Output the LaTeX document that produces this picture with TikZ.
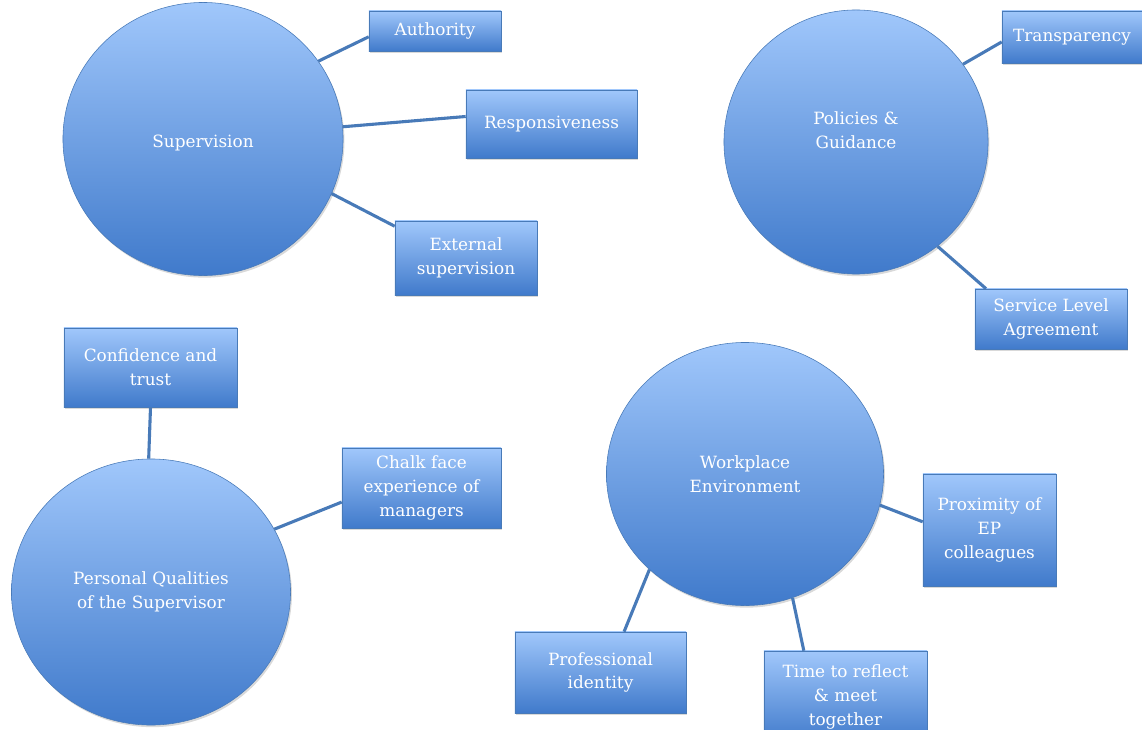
\documentclass[tikz,border=0pt]{standalone}
\usepackage{fontspec}
\setmainfont{DejaVu Serif}
\usepackage{tikz}
\usepackage{xcolor}
\usetikzlibrary{shapes.geometric,shadows}

\definecolor{blobtop}{RGB}{160,199,251}
\definecolor{blobbot}{RGB}{64,122,203}
\definecolor{linkblue}{RGB}{72,122,184}

\tikzset{
	bubble/.style={ellipse, draw=linkblue, thin, shading=axis, top color=blobtop, bottom color=blobbot,
		drop shadow={shadow xshift=1pt, shadow yshift=-1.5pt, opacity=0.3}, text=white, align=center,
		inner sep=0pt, font=\fontsize{12}{17}\selectfont},
	tag/.style={rectangle, draw=linkblue, thin, shading=axis, top color=blobtop, bottom color=blobbot,
		drop shadow={shadow xshift=1pt, shadow yshift=-1.5pt, opacity=0.3}, text=white, align=center,
		inner sep=0pt, font=\fontsize{12}{17}\selectfont},
	link/.style={draw=linkblue, line width=2.2pt}
}

\begin{document}
\begin{tikzpicture}[x=0.025cm, y=-0.025cm]
	\useasboundingbox (0,0) rectangle (1142,729);
	% circles
	\node[bubble, minimum width=7cm,     minimum height=6.825cm, text height=0.5cm] (sup) at (203,139) {Supervision};
	\node[bubble, minimum width=6.6cm,   minimum height=6.6cm, text depth=0.6cm]    (pol) at (856,142) {Policies \&\\Guidance};
	\node[bubble, minimum width=6.975cm, minimum height=6.65cm]  (qual) at (151,592) {Personal Qualities\\of the Supervisor};
	\node[bubble, minimum width=6.925cm, minimum height=6.575cm] (work) at (745,474) {Workplace\\Environment};
	% boxes
	\node[tag, minimum width=3.3cm,   minimum height=1cm]     (auth)  at (435,31)    {Authority};
	\node[tag, minimum width=4.275cm, minimum height=1.7cm]   (resp)  at (551.5,124) {Responsiveness};
	\node[tag, minimum width=3.55cm,  minimum height=1.85cm]  (ext)   at (466,258)   {External\\supervision};
	\node[tag, minimum width=3.5cm,   minimum height=1.3cm]   (trans) at (1072,37)   {Transparency};
	\node[tag, minimum width=3.8cm,   minimum height=1.5cm]   (sla)   at (1051,319)  {Service Level\\Agreement};
	\node[tag, minimum width=4.325cm, minimum height=1.975cm] (trust) at (150.5,367.5) {Confidence and\\trust};
	\node[tag, minimum width=3.975cm, minimum height=2cm]     (chalk) at (421.5,488) {Chalk face\\experience of\\managers};
	\node[tag, minimum width=3.325cm, minimum height=2.8cm]   (prox)  at (989.5,530) {Proximity of\\EP\\colleagues};
	\node[tag, minimum width=4.275cm, minimum height=2.025cm] (prof)  at (600.5,672.5) {Professional\\identity};
	\node[tag, minimum width=4.075cm, minimum height=2.3cm]   (time)  at (845.5,697) {Time to reflect\\\& meet\\together};
	% links
	\draw[link] (sup.34)   -- (auth.185);
	\draw[link] (sup.5)    -- (resp.175);
	\draw[link] (sup.-23)  -- (ext.156);
	\draw[link] (pol.36)   -- (trans.184);
	\draw[link] (pol.-52)  -- (sla.155);
	\draw[link] (qual.91)  -- (trust.south);
	\draw[link] (qual.27)  -- (chalk.190);
	\draw[link] (work.-13) -- (prox.173);
	\draw[link] (work.-135) -- (prof.60);
	\draw[link] (work.-69) -- (time.132);
\end{tikzpicture}
\end{document}
